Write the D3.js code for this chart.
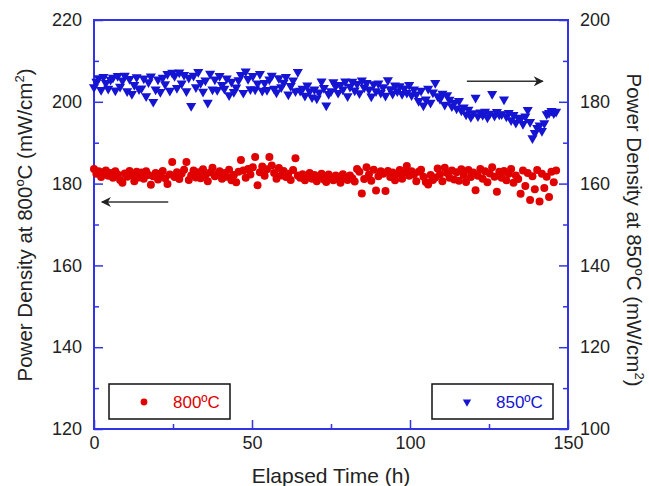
<!DOCTYPE html>
<html>
<head>
<meta charset="utf-8">
<script src="https://cdn.jsdelivr.net/npm/d3@7"></script>
<style>
  body { margin: 0; background: #fff; }
  svg { display: block; font-family: Arial, "Liberation Sans", sans-serif; }
  .tick text { fill: #222; font-size: 18px; }
</style>
</head>
<body>
<svg id="chart" width="649" height="486"></svg>
<script>
// elapsed time (h), shared by both series
const hours = [
  0, 0.75, 1.5, 2.25, 3, 3.75, 4.5, 5.25, 6, 6.75, 7.5, 8.25,
  9, 9.75, 10.5, 11.25, 12, 12.75, 13.5, 14.25, 15, 15.75, 16.5, 17.25,
  18, 18.75, 19.5, 20.25, 21, 21.75, 22.5, 23.25, 24, 24.75, 25.5, 26.25,
  27, 27.75, 28.5, 29.25, 30, 30.75, 31.5, 32.25, 33, 33.75, 34.5, 35.25,
  36, 36.75, 37.5, 38.25, 39, 39.75, 40.5, 41.25, 42, 42.75, 43.5, 44.25,
  45, 45.75, 46.5, 47.25, 48, 48.75, 49.5, 50.25, 51, 51.75, 52.5, 53.25,
  54, 54.75, 55.5, 56.25, 57, 57.75, 58.5, 59.25, 60, 60.75, 61.5, 62.25,
  63, 63.75, 64.5, 65.25, 66, 66.75, 67.5, 68.25, 69, 69.75, 70.5, 71.25,
  72, 72.75, 73.5, 74.25, 75, 75.75, 76.5, 77.25, 78, 78.75, 79.5, 80.25,
  81, 81.75, 82.5, 83.25, 84, 84.75, 85.5, 86.25, 87, 87.75, 88.5, 89.25,
  90, 90.75, 91.5, 92.25, 93, 93.75, 94.5, 95.25, 96, 96.75, 97.5, 98.25,
  99, 99.75, 100.5, 101.25, 102, 102.75, 103.5, 104.25, 105, 105.75, 106.5, 107.25,
  108, 108.75, 109.5, 110.25, 111, 111.75, 112.5, 113.25, 114, 114.75, 115.5, 116.25,
  117, 117.75, 118.5, 119.25, 120, 120.75, 121.5, 122.25, 123, 123.75, 124.5, 125.25,
  126, 126.75, 127.5, 128.25, 129, 129.75, 130.5, 131.25, 132, 132.75, 133.5, 134.25,
  135, 135.75, 136.5, 137.25, 138, 138.75, 139.5, 140.25, 141, 141.75, 142.5, 143.25,
  144, 144.75, 145.5, 146.25
]

// power density at 800C (left axis, mW/cm2)
const pd800 = [
  183.6, 182.4, 183.0, 181.6, 182.8, 183.2, 181.9, 182.6, 181.4, 183.0, 182.2, 180.9,
  180.2, 182.5, 181.7, 183.1, 182.0, 180.6, 182.9, 181.5, 182.7, 181.2, 183.0, 182.1,
  179.7, 181.8, 182.6, 181.0, 182.4, 183.1, 181.3, 179.9, 182.2, 185.3, 181.6, 182.8,
  181.1, 182.5, 183.4, 185.3, 180.9, 182.0, 183.2, 181.5, 182.8, 181.3, 183.5, 182.1,
  180.6, 182.7, 183.9, 181.8, 182.3, 183.0, 181.2, 182.6, 181.7, 183.4, 180.8, 182.1,
  180.3, 182.9, 185.8, 183.2, 181.4, 183.6, 182.2, 184.0, 186.5, 179.6, 182.8, 184.2,
  181.9, 183.5, 186.5, 184.4, 182.6, 181.2, 183.8, 182.0, 183.1, 181.6, 182.4, 180.9,
  183.3, 186.2, 182.0, 181.4, 182.3, 180.8, 181.9, 182.6, 181.2, 182.1, 180.6, 181.8,
  182.4, 181.0, 180.4, 182.2, 181.5, 180.8, 182.0, 181.1, 180.2, 182.3, 181.6, 180.9,
  182.0, 181.3, 180.5, 183.6, 182.9, 177.6, 181.1, 184.0, 182.2, 180.7, 183.4, 178.3,
  181.8, 183.0, 182.4, 178.2, 183.1, 181.6, 182.7, 180.8, 182.4, 183.3, 181.2, 182.8,
  184.3, 181.9, 183.0, 182.2, 180.6, 182.9, 183.4, 181.7, 180.4, 179.8, 182.1, 180.9,
  181.5, 183.7, 182.3, 180.6, 183.9, 182.6, 181.4, 183.2, 181.0, 182.8, 180.7, 183.5,
  182.1, 180.4, 183.3, 181.6, 182.7, 178.4, 181.9, 183.6, 181.2, 183.0, 180.3, 182.5,
  184.0, 181.7, 178.0, 182.9, 181.4, 183.1, 180.8, 182.4, 183.6, 180.2, 182.0, 181.1,
  177.5, 183.2, 179.4, 182.6, 176.0, 181.8, 178.6, 183.3, 175.6, 182.4, 178.9, 181.7,
  176.7, 182.9, 180.3, 183.2
]

// power density at 850C (right axis, mW/cm2)
const pd850 = [
  183.6, 184.9, 185.8, 182.9, 186.1, 184.6, 183.2, 185.4, 185.9, 182.8, 186.3, 183.7,
  185.2, 186.4, 182.6, 185.6, 181.9, 184.1, 186.0, 183.1, 183.3, 185.7, 181.4, 184.8,
  186.2, 180.0, 183.0, 185.5, 182.4, 185.9, 184.3, 186.8, 182.7, 187.1, 186.3, 183.4,
  187.2, 184.5, 186.6, 182.6, 185.9, 179.0, 186.4, 183.6, 187.3, 184.6, 182.5, 185.2,
  179.8, 186.9, 183.0, 185.5, 182.9, 186.3, 184.1, 183.2, 185.7, 181.6, 184.9, 182.4,
  183.5, 185.3, 186.6, 182.2, 187.4, 185.6, 183.1, 186.3, 183.0, 184.5, 186.8, 182.7,
  184.6, 182.9, 185.5, 186.4, 183.2, 182.3, 185.8, 183.6, 184.7, 186.1, 181.8, 183.9,
  185.2, 182.6, 187.3, 182.7, 183.2, 181.5, 184.0, 182.6, 181.1, 183.0, 180.8, 182.3,
  185.0, 183.4, 179.1, 181.9, 182.6, 184.8, 183.9, 182.2, 184.1, 183.0, 185.0, 181.4,
  183.7, 184.9, 182.8, 184.4, 182.1, 185.2, 183.5, 184.6, 183.0, 181.3, 184.3, 182.6,
  184.5, 182.2, 183.6, 181.5, 185.3, 183.1, 182.0, 184.0, 182.6, 183.8, 181.9, 183.3,
  182.2, 184.1, 181.6, 183.0, 181.8, 180.2, 182.7, 179.1, 180.6, 183.2, 179.8, 182.3,
  184.6, 181.4, 180.7, 182.0, 179.3, 181.6, 180.5, 178.9, 179.8, 178.4, 180.2, 177.9,
  178.6, 176.9, 178.1, 176.3, 177.2, 181.0, 176.5, 177.4, 176.8, 177.6, 176.2, 177.1,
  181.9, 176.6, 177.5, 176.9, 177.0, 180.6, 176.4, 177.3, 175.5, 176.8, 174.9, 176.1,
  175.8, 174.6, 176.4, 178.0, 175.1, 171.1, 172.4, 173.6, 174.2, 172.9, 174.8, 177.0,
  177.3, 177.8, 177.2, 177.6
]

const xTicks = [0, 50, 100, 150]
const xMinor = [25, 75, 125]
const leftTicks = [120, 140, 160, 180, 200, 220]
const leftMinor = [130, 150, 170, 190, 210]
const rightTicks = [100, 120, 140, 160, 180, 200]
const rightMinor = [110, 130, 150, 170, 190]

const red = "#e00000"
const blue = "#1414d2"
const frameBlue = "#3333e6"

const svg = d3.select("#chart")
const plotL = 94, plotR = 568, plotT = 20, plotB = 429

const x = d3.scaleLinear().domain([0, 150]).range([plotL, plotR])
const yL = d3.scaleLinear().domain([120, 220]).range([plotB, plotT])
const yR = d3.scaleLinear().domain([100, 200]).range([plotB, plotT])

// axes, ticks pointing inwards
const addAxis = (axis, tf) => {
    const g = svg.append("g").attr("transform", tf).call(axis)
    g.select(".domain").remove()
    g.selectAll(".tick line").attr("stroke", frameBlue).attr("stroke-width", 1.5)
    return g
}

addAxis(d3.axisBottom(x).tickValues(xTicks).tickSize(-9).tickPadding(7), `translate(0,${plotB})`)
addAxis(d3.axisBottom(x).tickValues(xMinor).tickSize(-5).tickFormat(""), `translate(0,${plotB})`)
addAxis(d3.axisLeft(yL).tickValues(leftTicks).tickSize(-9).tickPadding(12), `translate(${plotL},0)`)
addAxis(d3.axisLeft(yL).tickValues(leftMinor).tickSize(-5).tickFormat(""), `translate(${plotL},0)`)
addAxis(d3.axisRight(yR).tickValues(rightTicks).tickSize(-9).tickPadding(12), `translate(${plotR},0)`)
addAxis(d3.axisRight(yR).tickValues(rightMinor).tickSize(-5).tickFormat(""), `translate(${plotR},0)`)

svg.selectAll("g[font-family]").attr("font-family", null).attr("font-size", null)

// frame
svg.append("rect")
    .attr("x", plotL).attr("y", plotT)
    .attr("width", plotR - plotL).attr("height", plotB - plotT)
    .attr("fill", "none").attr("stroke", frameBlue).attr("stroke-width", 2)

// data
const tri = d3.symbol().type(d3.symbolTriangle).size(44)

svg.append("g").selectAll("path")
    .data(hours.map((h, i) => ({ x: h, y: pd850[i] })))
    .join("path")
    .attr("d", tri)
    .attr("transform", d => `translate(${x(d.x)},${yR(d.y)}) rotate(180)`)
    .attr("fill", blue)

svg.append("g").selectAll("circle")
    .data(hours.map((h, i) => ({ x: h, y: pd800[i] })))
    .join("circle")
    .attr("cx", d => x(d.x))
    .attr("cy", d => yL(d.y))
    .attr("r", 4)
    .attr("fill", red)

// arrows
svg.append("defs").append("marker")
    .attr("id", "head")
    .attr("viewBox", "0 0 10 10")
    .attr("refX", 9).attr("refY", 5)
    .attr("markerWidth", 11).attr("markerHeight", 10)
    .attr("markerUnits", "userSpaceOnUse")
    .attr("orient", "auto")
    .append("path").attr("d", "M0,0 L10,5 L0,10 L3,5 Z").attr("fill", "#222")

const arrow = (t0, t1, v, sc) => {
    svg.append("line")
        .attr("x1", x(t0)).attr("x2", x(t1))
        .attr("y1", sc(v)).attr("y2", sc(v))
        .attr("stroke", "#333").attr("stroke-width", 1.5)
        .attr("marker-end", "url(#head)")
}
arrow(118, 142, 185, yR)
arrow(23.5, 2.5, 175.5, yL)

// legends
const legend = (bx, label, color, isTri) => {
    const g = svg.append("g")
    g.append("rect")
        .attr("x", bx).attr("y", 384).attr("width", 121).attr("height", 35)
        .attr("fill", "#fff").attr("stroke", "#111").attr("stroke-width", 1.5)
    if (isTri) {
        g.append("path").attr("d", d3.symbol().type(d3.symbolTriangle).size(30))
            .attr("transform", `translate(${bx + 35},402) rotate(180)`).attr("fill", color)
    } else {
        g.append("circle").attr("cx", bx + 35).attr("cy", 402).attr("r", 3.4).attr("fill", color)
    }
    g.append("text").attr("x", bx + 64).attr("y", 408)
        .attr("font-size", 17).attr("fill", color).text(label)
}
legend(109, "800ºC", red, false)
legend(432, "850ºC", blue, true)

// axis titles
svg.append("text")
    .attr("x", (plotL + plotR) / 2).attr("y", 483)
    .attr("text-anchor", "middle").attr("font-size", 21).attr("fill", "#222")
    .text("Elapsed Time (h)")

const yTitle = (tx, ty, rot, temp) => {
    const t = svg.append("text")
        .attr("transform", `translate(${tx},${ty}) rotate(${rot})`)
        .attr("text-anchor", "middle").attr("font-size", 20.5).attr("fill", "#222")
    t.append("tspan").text(`Power Density at ${temp}`)
    t.append("tspan").attr("dy", -8).attr("font-size", 13).text("o")
    t.append("tspan").attr("dy", 8).text("C (mW/cm")
    t.append("tspan").attr("dy", -8).attr("font-size", 13).text("2")
    t.append("tspan").attr("dy", 8).text(")")
}
yTitle(32, 225, -90, "800")
yTitle(627, 230, 90, "850")
</script>
</body>
</html>
